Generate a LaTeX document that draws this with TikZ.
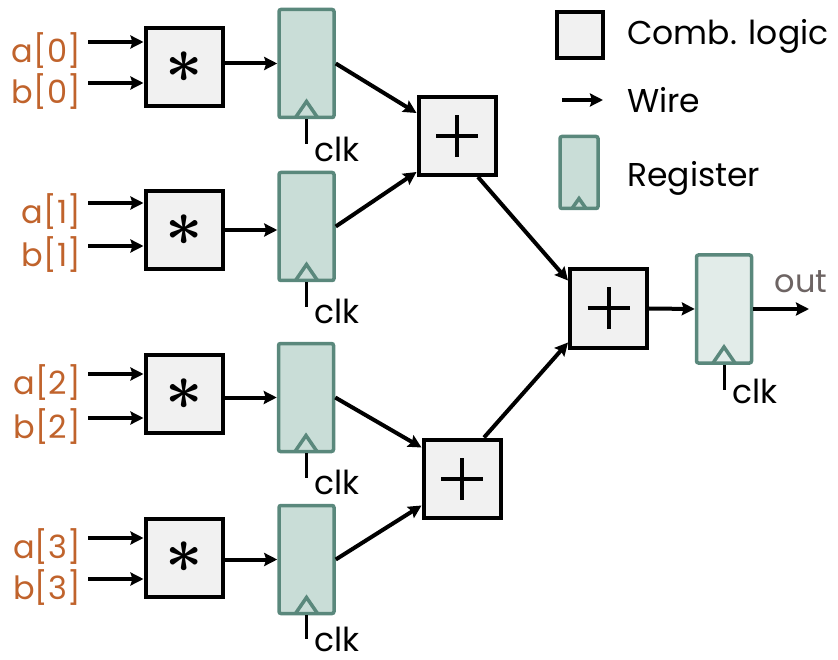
\documentclass[tikz,border=0pt]{standalone}
\usepackage{fontspec}
\setmainfont{Poppins}
\usetikzlibrary{arrows.meta,calc}

\definecolor{combfill}{HTML}{F1F1F1}
\definecolor{regfill}{HTML}{C9DDD7}
\definecolor{reglight}{HTML}{E2ECE9}
\definecolor{regline}{HTML}{5A887C}
\definecolor{inlabel}{HTML}{C0632C}
\definecolor{outlabel}{HTML}{6D6463}

\tikzset{
  comb/.style={draw, line width=4pt, fill=combfill, minimum width=77pt, minimum height=78pt, inner sep=0pt},
  plusbox/.style={comb, path picture={
      \draw[line width=4pt] ([xshift=-21pt]path picture bounding box.center) -- ([xshift=21pt]path picture bounding box.center);
      \draw[line width=4pt] ([yshift=-21pt]path picture bounding box.center) -- ([yshift=21pt]path picture bounding box.center);}},
  clockmark/.style 2 args={path picture={
      \draw[regline, line width=3.5pt, sharp corners] ([xshift=-#1]path picture bounding box.south)
        -- ([yshift=#2]path picture bounding box.south) -- ([xshift=#1]path picture bounding box.south);}},
  reg/.style={draw=regline, line width=3.5pt, fill=regfill, rounded corners=2pt, minimum width=55pt, minimum height=108pt, inner sep=0pt, clockmark={11pt}{16pt}},
  legreg/.style={reg, minimum width=38pt, minimum height=72pt, clockmark={7pt}{10pt}},
  wire/.style={line width=4pt, -{Stealth[length=13pt, width=13pt, inset=2pt]}},
  clkwire/.style={line width=3pt},
  clktext/.style={anchor=base west, inner sep=0pt, font=\fontsize{33}{35}\selectfont},
  inlab/.style={anchor=east, inner sep=0pt, text=inlabel, font=\fontsize{32}{34}\selectfont},
  legtext/.style={anchor=base west, inner sep=0pt, font=\fontsize{33}{35}\selectfont}
}
\newcommand{\mulsign}{\scalebox{6.5}{\boldmath$\ast$}}

\begin{document}
\begin{tikzpicture}[x=1pt, y=-1pt]
\useasboundingbox (0,0) rectangle (838,660);

% multipliers and registers, one row per product
\node[comb] (m0) at (184,67) {\mulsign};
\node[comb] (m1) at (184,230) {\mulsign};
\node[comb] (m2) at (184,394) {\mulsign};
\node[comb] (m3) at (184,557.5) {\mulsign};
\node[reg] (r0) at (306.5,63.5) {};
\node[reg] (r1) at (306.5,226.5) {};
\node[reg] (r2) at (306,397.5) {};
\node[reg] (r3) at (306.5,559.5) {};

% inputs
\coordinate (ia0) at (88,42);  \coordinate (ib0) at (88,83);
\coordinate (ia1) at (88,203); \coordinate (ib1) at (88,246);
\coordinate (ia2) at (88,374); \coordinate (ib2) at (88,418);
\coordinate (ia3) at (88,538); \coordinate (ib3) at (88,579);
\node[inlab] (la0) at ($(ia0)+(-7,9)$) {a[0]}; \node[inlab] (lb0) at ($(ib0)+(-7,9)$) {b[0]};
\node[inlab] (la1) at ($(ia1)+(-7,9)$) {a[1]}; \node[inlab] (lb1) at ($(ib1)+(-7,9)$) {b[1]};
\node[inlab] (la2) at ($(ia2)+(-7,9)$) {a[2]}; \node[inlab] (lb2) at ($(ib2)+(-7,9)$) {b[2]};
\node[inlab] (la3) at ($(ia3)+(-7,9)$) {a[3]}; \node[inlab] (lb3) at ($(ib3)+(-7,9)$) {b[3]};
\draw[wire] (ia0) -- (m0.west|-ia0); \draw[wire] (ib0) -- (m0.west|-ib0);
\draw[wire] (ia1) -- (m1.west|-ia1); \draw[wire] (ib1) -- (m1.west|-ib1);
\draw[wire] (ia2) -- (m2.west|-ia2); \draw[wire] (ib2) -- (m2.west|-ib2);
\draw[wire] (ia3) -- (m3.west|-ia3); \draw[wire] (ib3) -- (m3.west|-ib3);

\draw[wire] (m0.east|-r0.west) -- (r0.west);
\draw[wire] (m1.east) -- (r1.west|-m1.east);
\draw[wire] (m2.east|-r2.west) -- (r2.west);
\draw[wire] (m3.east|-r3.west) -- (r3.west);

% clocks
\draw[clkwire] (r0.south) -- ++(0,25) coordinate (k0); \node[clktext] (c0) at ($(k0)+(8,17)$) {clk};
\draw[clkwire] (r1.south) -- ++(0,25) coordinate (k1); \node[clktext] (c1) at ($(k1)+(8,16)$) {clk};
\draw[clkwire] (r2.south) -- ++(0,25) coordinate (k2); \node[clktext] (c2) at ($(k2)+(8,16)$) {clk};
\draw[clkwire] (r3.south) -- ++(0,24) coordinate (k3); \node[clktext] (c3) at ($(k3)+(8,12)$) {clk};

% adder tree
\node[plusbox] (p1) at (457,136) {};
\node[plusbox] (p2) at (462,478.5) {};
\node[plusbox] (p3) at (608.5,308.5) {};
\node[reg, fill=reglight] (r4) at (724,309) {};
\draw[wire] (r0.east) -- ([yshift=23pt]p1.west);
\draw[wire] (r1.east) -- ([yshift=-36pt]p1.west);
\draw[wire] (r2.east) -- ([yshift=31pt]p2.west);
\draw[wire] (r3.east) -- ([yshift=-27pt]p2.west);
\draw[wire] ([xshift=21pt]p1.south) -- ([yshift=28pt]p3.west);
\draw[wire] ([xshift=22pt]p2.north) -- ([yshift=-34pt]p3.west);
\draw[wire] (p3.east) -- (r4.west);
\coordinate (out) at (809,309);
\draw[wire] (r4.east) -- (out);
\node[anchor=base, inner sep=0pt, text=outlabel, font=\fontsize{32}{34}\selectfont] (lo) at ($(out)+(-8,-16)$) {out};
\draw[clkwire] (r4.south) -- ++(0,25) coordinate (k4); \node[clktext] (c4) at ($(k4)+(8,14)$) {clk};

% legend
\node[comb, minimum width=46pt, minimum height=46pt] (lc) at (580,35) {};
\coordinate (lw0) at (562,100); \coordinate (lw1) at (603,100);
\draw[wire] (lw0) -- (lw1);
\node[legreg] (lr) at (579,172.5) {};
\node[legtext] (tc) at (627,45) {Comb. logic};
\node[legtext] (tw) at (627,113) {Wire};
\node[legtext] (tr) at (627,187) {Register};
\end{tikzpicture}
\end{document}
